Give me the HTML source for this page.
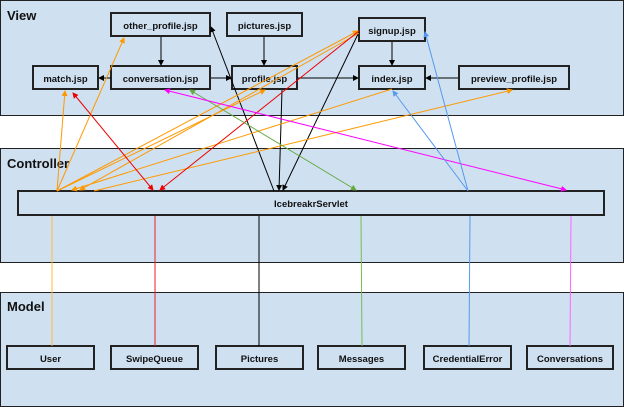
<!DOCTYPE html><html><head><style>body{margin:0;background:#fff}svg{display:block;font-family:"Liberation Sans",sans-serif}</style></head><body>
<svg width="624" height="407" viewBox="0 0 624 407">
<defs>
<marker id="k" markerWidth="6" markerHeight="6" refX="5" refY="3" orient="auto-start-reverse"><path d="M0,0L6,3L0,6z" fill="#000"/></marker>
<marker id="o" markerWidth="6" markerHeight="6" refX="5" refY="3" orient="auto-start-reverse"><path d="M0,0L6,3L0,6z" fill="#f90"/></marker>
<marker id="r" markerWidth="6" markerHeight="6" refX="5" refY="3" orient="auto-start-reverse"><path d="M0,0L6,3L0,6z" fill="#e00"/></marker>
<marker id="g" markerWidth="6" markerHeight="6" refX="5" refY="3" orient="auto-start-reverse"><path d="M0,0L6,3L0,6z" fill="#6a4"/></marker>
<marker id="m" markerWidth="6" markerHeight="6" refX="5" refY="3" orient="auto-start-reverse"><path d="M0,0L6,3L0,6z" fill="#f0f"/></marker>
<marker id="b" markerWidth="6" markerHeight="6" refX="5" refY="3" orient="auto-start-reverse"><path d="M0,0L6,3L0,6z" fill="#59e"/></marker>
</defs>
<g fill="#cfe0f1" stroke="#222" stroke-width="1">
<rect x="0.5" y="0.5" width="623" height="115"/>
<rect x="0.5" y="148.5" width="623" height="114"/>
<rect x="0.5" y="292.5" width="623" height="114"/>
</g>
<g font-weight="bold" font-size="13" fill="#111">
<text x="7" y="20">View</text><text x="7" y="168">Controller</text><text x="7" y="311">Model</text>
</g>
<g fill="#cfe0f1" stroke="#222" stroke-width="2">
<rect x="111" y="13" width="99" height="23"/><rect x="227" y="13" width="75" height="23"/>
<rect x="33" y="66" width="65" height="23"/><rect x="111" y="66" width="99" height="23"/>
<rect x="232" y="66" width="65" height="23"/><rect x="359" y="18" width="66" height="23"/>
<rect x="359" y="66" width="66" height="23"/><rect x="459" y="66" width="110" height="23"/>
<rect x="18" y="191" width="586" height="24"/>
<rect x="7" y="346" width="87" height="23"/><rect x="111" y="346" width="87" height="23"/>
<rect x="216" y="346" width="87" height="23"/><rect x="318" y="346" width="87" height="23"/>
<rect x="424" y="346" width="87" height="23"/><rect x="527" y="346" width="86" height="23"/>
</g>
<g font-size="9.5" font-weight="bold" text-anchor="middle" fill="#111">
<text x="160.5" y="29">other_profile.jsp</text><text x="264.5" y="29">pictures.jsp</text>
<text x="65.5" y="82">match.jsp</text><text x="160.5" y="82">conversation.jsp</text>
<text x="264.5" y="82">profile.jsp</text><text x="392" y="34">signup.jsp</text>
<text x="392" y="82">index.jsp</text><text x="514" y="82">preview_profile.jsp</text>
<text x="311" y="207">IcebreakrServlet</text>
<text x="50.5" y="362">User</text><text x="154.5" y="362">SwipeQueue</text><text x="259.5" y="362">Pictures</text>
<text x="361.5" y="362">Messages</text><text x="467.5" y="362">CredentialError</text><text x="570" y="362">Conversations</text>
</g>
<g stroke-width="1" fill="none">
<line x1="52" y1="216" x2="52" y2="346" stroke="#fb4"/>
<line x1="155" y1="216" x2="155" y2="346" stroke="#e22"/>
<line x1="259" y1="216" x2="259" y2="346" stroke="#000"/>
<line x1="361" y1="216" x2="362" y2="346" stroke="#7b5"/>
<line x1="470" y1="216" x2="469" y2="346" stroke="#59e"/>
<line x1="571" y1="216" x2="570" y2="346" stroke="#f6f"/>
<g stroke="#000">
<line x1="161" y1="37" x2="161" y2="65" marker-end="url(#k)"/>
<line x1="264" y1="37" x2="264" y2="65" marker-end="url(#k)"/>
<line x1="111" y1="78" x2="99" y2="78" marker-end="url(#k)"/>
<line x1="211" y1="78" x2="231" y2="78" marker-end="url(#k)"/>
<line x1="298" y1="78" x2="358" y2="78" marker-end="url(#k)"/>
<line x1="392" y1="42" x2="392" y2="65" marker-end="url(#k)"/>
<line x1="458" y1="78" x2="426" y2="78" marker-end="url(#k)"/>
<line x1="211" y1="27" x2="274" y2="191" marker-start="url(#k)"/>
<line x1="282" y1="90" x2="279" y2="190" marker-end="url(#k)"/>
<line x1="359" y1="32" x2="283" y2="190" marker-end="url(#k)"/>
</g>
<g stroke="#f90">
<line x1="57" y1="191" x2="65" y2="91" marker-end="url(#o)"/>
<line x1="57" y1="191" x2="124" y2="38" marker-end="url(#o)"/>
<line x1="57" y1="191" x2="265" y2="90" marker-end="url(#o)"/>
<line x1="57" y1="191" x2="358" y2="31" marker-end="url(#o)"/>
<line x1="392" y1="89" x2="72" y2="190" marker-end="url(#o)"/>
<line x1="359" y1="33" x2="80" y2="190" marker-end="url(#o)"/>
<line x1="94" y1="191" x2="512" y2="90" marker-end="url(#o)"/>
</g>
<g stroke="#e00">
<line x1="73" y1="93" x2="153" y2="190" marker-start="url(#r)" marker-end="url(#r)"/>
<line x1="359" y1="31" x2="160" y2="190" marker-end="url(#r)"/>
</g>
<line x1="190" y1="90" x2="356" y2="190" stroke="#6a4" marker-start="url(#g)" marker-end="url(#g)"/>
<line x1="165" y1="90" x2="566" y2="190" stroke="#f0f" marker-start="url(#m)" marker-end="url(#m)"/>
<line x1="468" y1="191" x2="425" y2="32" stroke="#59e" marker-end="url(#b)"/>
<line x1="468" y1="191" x2="393" y2="91" stroke="#59e" marker-end="url(#b)"/>
</g>
</svg></body></html>
